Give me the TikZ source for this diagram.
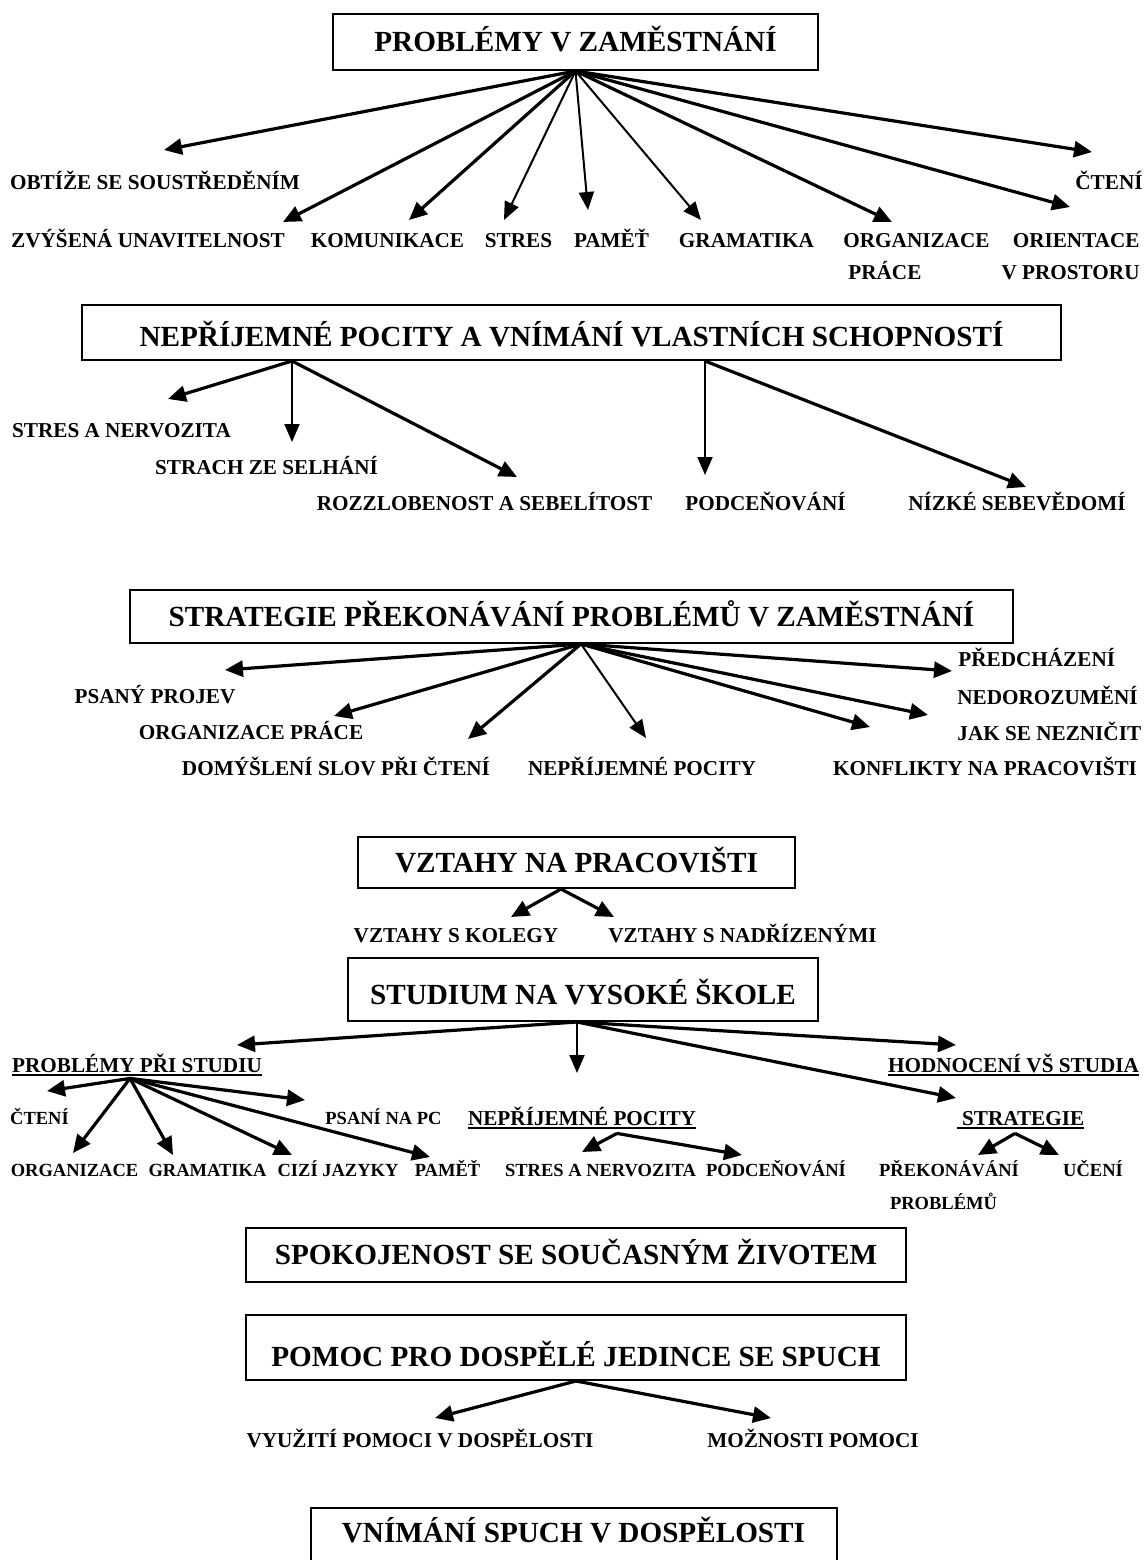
\documentclass[tikz,border=0pt]{standalone}
\usepackage{fontspec}
\setmainfont{Liberation Serif}
\usetikzlibrary{arrows.meta,calc}

\newcommand{\bigfont}{\fontsize{14.6}{17}\selectfont\bfseries}
\newcommand{\lblfont}{\fontsize{10.6}{13}\selectfont\bfseries}
\newcommand{\smallfont}{\fontsize{9.25}{11}\selectfont\bfseries}
\newsavebox{\ulsave}
\newcommand{\ulbox}[1]{\sbox{\ulsave}{#1}\rlap{\rule[-2pt]{\wd\ulsave}{1pt}}\usebox{\ulsave}}

\begin{document}
\begin{tikzpicture}[x=0.5pt,y=-0.5pt,
    mybox/.style={draw,line width=1pt,font=\bigfont,inner sep=0pt,text height=12pt,text depth=2.33pt},
    mylabel/.style={font=\lblfont,inner sep=0pt,text height=9pt,text depth=2pt},
    mysmall/.style={font=\smallfont,inner sep=0pt,text height=8pt,text depth=1.8pt},
    myarrow/.style={-{Triangle[length=9pt,width=8pt]},line width=1.6pt},
    mythin/.style={-{Triangle[length=9pt,width=7.5pt]},line width=1pt}]

        \useasboundingbox (0,0) rectangle (1145,1560);

        %problemy v zamestnani
        \node[mybox,minimum width=242.5pt,minimum height=28pt] (pz) at (575.5,42) {PROBLÉMY V ZAMĚSTNÁNÍ};

        \node[mylabel] (obt) at (155,182) {OBTÍŽE SE SOUSTŘEDĚNÍM};
        \node[mylabel] (cte) at (1109,182) {ČTENÍ};
        \node[mylabel] (zvy) at (148,240) {ZVÝŠENÁ UNAVITELNOST};
        \node[mylabel] (kom) at (387.5,240) {KOMUNIKACE};
        \node[mylabel] (str) at (518.5,240) {STRES};
        \node[mylabel] (pam) at (611.5,240) {PAMĚŤ};
        \node[mylabel] (gra) at (746.5,240) {GRAMATIKA};
        \node[mylabel,anchor=west] (org) at (843,240) {ORGANIZACE};
        \node[mylabel,anchor=west] (org2) at (848,272) {PRÁCE};
        \node[mylabel,anchor=east] (ori) at (1140,240) {ORIENTACE};
        \node[mylabel,anchor=east] (ori2) at (1140,272) {V PROSTORU};

        \coordinate (obt') at (164,150);
        \coordinate (cte') at (1092,152);
        \coordinate (zvy') at (283,222);
        \coordinate (kom') at (409,220);
        \coordinate (str') at (504,220);
        \coordinate (pam') at (588,210);
        \coordinate (gra') at (701,220);
        \coordinate (org') at (892,222);
        \coordinate (ori') at (1070,207);

        \draw [myarrow] (pz.south) -- (obt');
        \draw [myarrow] (pz.south) -- (cte');
        \draw [myarrow] (pz.south) -- (zvy');
        \draw [myarrow] (pz.south) -- (kom');
        \draw [mythin] (pz.south) -- (str');
        \draw [mythin] (pz.south) -- (pam');
        \draw [mythin] (pz.south) -- (gra');
        \draw [myarrow] (pz.south) -- (org');
        \draw [myarrow] (pz.south) -- (ori');

        %neprijemne pocity
        \node[mybox,minimum width=489.5pt,minimum height=27.5pt,text height=16.5pt] (np) at (571.5,332.5) {NEPŘÍJEMNÉ POCITY A VNÍMÁNÍ VLASTNÍCH SCHOPNOSTÍ};
        \coordinate (np1) at ($(np.south)+(-279.5,0)$);
        \coordinate (np2) at ($(np.south)+(133.5,0)$);

        \node[mylabel] (sn) at (121.5,430) {STRES A NERVOZITA};
        \node[mylabel] (sz) at (266.5,467) {STRACH ZE SELHÁNÍ};
        \node[mylabel] (ro) at (484.5,503) {ROZZLOBENOST A SEBELÍTOST};
        \node[mylabel] (pd) at (765.5,503) {PODCEŇOVÁNÍ};
        \node[mylabel] (ni) at (1017,503) {NÍZKÉ SEBEVĚDOMÍ};

        \coordinate (sn') at (168,399);
        \coordinate (sz') at (292,442);
        \coordinate (ro') at (517,477);
        \coordinate (pd') at (705,475);
        \coordinate (ni') at (1026,487);

        \draw [myarrow] (np1) -- (sn');
        \draw [mythin] (np1) -- (sz');
        \draw [myarrow] (np1) -- (ro');
        \draw [mythin] (np2) -- (pd');
        \draw [myarrow] (np2) -- (ni');

        %strategie
        \node[mybox,minimum width=441.5pt,minimum height=26.5pt] (st) at (571.5,616.5) {STRATEGIE PŘEKONÁVÁNÍ PROBLÉMŮ V ZAMĚSTNÁNÍ};
        \coordinate (st0) at ($(st.south)+(9.5,0)$);

        \node[mylabel] (ps) at (155,696) {PSANÝ PROJEV};
        \node[mylabel] (op) at (251,732) {ORGANIZACE PRÁCE};
        \node[mylabel] (dom) at (336,768) {DOMÝŠLENÍ SLOV PŘI ČTENÍ};
        \node[mylabel] (nep) at (642,768) {NEPŘÍJEMNÉ POCITY};
        \node[mylabel] (kon) at (985,768) {KONFLIKTY NA PRACOVIŠTI};
        \node[mylabel,anchor=west] (pre) at (958,659) {PŘEDCHÁZENÍ};
        \node[mylabel,anchor=west] (pre2) at (957,697) {NEDOROZUMĚNÍ};
        \node[mylabel,anchor=west] (jak) at (957,733) {JAK SE NEZNIČIT};

        \coordinate (ps') at (225,670);
        \coordinate (op') at (334,716);
        \coordinate (dom') at (468,739);
        \coordinate (nep') at (646,738);
        \coordinate (kon') at (870,727);
        \coordinate (jak') at (928,715);
        \coordinate (pre') at (952,671);

        \draw [myarrow] (st0) -- (ps');
        \draw [myarrow] (st0) -- (op');
        \draw [myarrow] (st0) -- (dom');
        \draw [mythin] (st0) -- (nep');
        \draw [myarrow] (st0) -- (kon');
        \draw [myarrow] (st0) -- (jak');
        \draw [myarrow] (st0) -- (pre');

        %vztahy
        \node[mybox,minimum width=218.5pt,minimum height=25.5pt] (vz) at (576.5,862.5) {VZTAHY NA PRACOVIŠTI};
        \coordinate (vz0) at ($(vz.south)+(-15.5,0)$);

        \node[mylabel] (kol) at (456,935) {VZTAHY S KOLEGY};
        \node[mylabel] (nad) at (742.5,935) {VZTAHY S NADŘÍZENÝMI};

        \coordinate (kol') at (511,917);
        \coordinate (nad') at (614,917);

        \draw [myarrow] (vz0) -- (kol');
        \draw [myarrow] (vz0) -- (nad');

        %studium
        \node[mybox,minimum width=235pt,minimum height=31.5pt,text height=17.5pt] (su) at (583,989.5) {STUDIUM NA VYSOKÉ ŠKOLE};
        \coordinate (su0) at ($(su.south)+(-6,0)$);

        \node[mylabel] (pps) at (137,1065) {\ulbox{PROBLÉMY PŘI STUDIU}};
        \node[mylabel] (hod) at (1013.5,1065) {\ulbox{HODNOCENÍ VŠ STUDIA}};
        \node[mylabel] (npc) at (582,1118) {\ulbox{NEPŘÍJEMNÉ POCITY}};
        \node[mylabel] (stg) at (1020.5,1118) {\ulbox{~STRATEGIE}};

        \coordinate (pps') at (237,1045);
        \coordinate (npc') at (577,1073);
        \coordinate (hod') at (956,1045);
        \coordinate (stg') at (956,1098);

        \draw [myarrow] (su0) -- (pps');
        \draw [mythin] (su0) -- (npc');
        \draw [myarrow] (su0) -- (hod');
        \draw [myarrow] (su0) -- (stg');

        \node[mysmall] (ct2) at (39.5,1118) {ČTENÍ};
        \node[mysmall] (pc) at (383.5,1118) {PSANÍ NA PC};
        \node[mysmall] (og) at (74.5,1170) {ORGANIZACE};
        \node[mysmall] (gm) at (207.5,1170) {GRAMATIKA};
        \node[mysmall] (cj) at (338,1170) {CIZÍ JAZYKY};
        \node[mysmall] (pm) at (447.5,1170) {PAMĚŤ};
        \node[mysmall] (sa) at (600.5,1170) {STRES A NERVOZITA};
        \node[mysmall] (pd2) at (776,1170) {PODCEŇOVÁNÍ};
        \node[mysmall] (pk) at (949,1170) {PŘEKONÁVÁNÍ};
        \node[mysmall] (pb) at (943.5,1203) {PROBLÉMŮ};
        \node[mysmall] (uc) at (1093,1170) {UČENÍ};

        \coordinate (pps0) at ($(pps.south)+(-7,2)$);
        \coordinate (npc0) at ($(npc.south)+(35,4)$);
        \coordinate (stg0) at ($(stg.south)+(-5.5,4)$);

        \coordinate (ct2') at (47,1091);
        \coordinate (pc') at (305,1100);
        \coordinate (og') at (73,1153);
        \coordinate (gm') at (173,1155);
        \coordinate (cj') at (292,1155);
        \coordinate (pm') at (430,1157);
        \coordinate (sa') at (582,1152);
        \coordinate (pd2') at (742,1155);
        \coordinate (pk') at (978,1155);
        \coordinate (uc') at (1059,1155);

        \draw [myarrow] (pps0) -- (ct2');
        \draw [myarrow] (pps0) -- (pc');
        \draw [myarrow] (pps0) -- (og');
        \draw [myarrow] (pps0) -- (gm');
        \draw [myarrow] (pps0) -- (cj');
        \draw [myarrow] (pps0) -- (pm');
        \draw [myarrow] (npc0) -- (sa');
        \draw [myarrow] (npc0) -- (pd2');
        \draw [myarrow] (stg0) -- (pk');
        \draw [myarrow] (stg0) -- (uc');

        %spokojenost, pomoc
        \node[mybox,minimum width=330pt,minimum height=27pt] (sp) at (576,1255) {SPOKOJENOST SE SOUČASNÝM ŽIVOTEM};
        \node[mybox,minimum width=330pt,minimum height=32.5pt,text height=21.5pt] (po) at (576,1347.5) {POMOC PRO DOSPĚLÉ JEDINCE SE SPUCH};

        \node[mylabel] (vy) at (420,1440) {VYUŽITÍ POMOCI V DOSPĚLOSTI};
        \node[mylabel] (mo) at (813,1440) {MOŽNOSTI POMOCI};

        \coordinate (vy') at (435,1418);
        \coordinate (mo') at (771,1418);

        \draw [myarrow] (po.south) -- (vy');
        \draw [myarrow] (po.south) -- (mo');

        %vnimani
        \node[mybox,minimum width=263pt,text height=17.33pt,text depth=40pt,anchor=north] (vn) at (573.5,1507) {VNÍMÁNÍ SPUCH V DOSPĚLOSTI};
\end{tikzpicture}
\end{document}
